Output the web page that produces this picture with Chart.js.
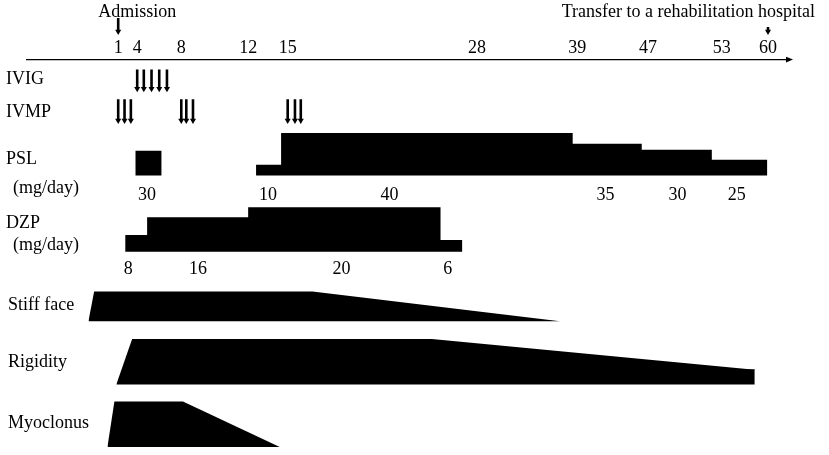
<!DOCTYPE html>
<html>
<head>
<meta charset="utf-8">
<script src="https://cdn.jsdelivr.net/npm/chart.js@4.4.1/dist/chart.umd.min.js"></script>
<style>
  body { margin: 0; background: #fff; }
</style>
</head>
<body>
<canvas id="timeline" width="829" height="455"></canvas>
<script>
// days written on the time axis
const tickDays = [1, 4, 8, 12, 15, 28, 39, 47, 53, 60];
// where each of those days sits along the axis (0-100), the drawing is not to scale
const tickAt = [12.0, 14.5, 20.3, 29.1, 34.3, 59.2, 72.4, 81.7, 91.4, 97.5];

// one arrow per infusion
const ivigDays = [4, 4.6, 5.3, 6.0, 6.7];
const ivmpDays = [1, 2.0, 3.0, 8, 8.3, 8.7, 15, 15.5, 15.9];

// admission / transfer
const eventDays = [1, 60];
const eventNames = ['Admission', 'Transfer to a rehabilitation hospital'];

// prednisolone
const pslStart = [3.7, 12.6, 14.5, 38.5, 46.3, 52.2];
const pslEnd = [6.2, 14.5, 38.5, 46.3, 52.2, 59.9];
const pslDose = [30, 10, 40, 35, 30, 25];
const pslLevel = [25, 11, 43, 32, 26, 16];
const pslLabelDay = [4.9, 13.5, 22.0, 42.2, 49.4, 55.3];

// diazepam
const dzpStart = [2.1, 4.9, 12, 25.5];
const dzpEnd = [4.9, 12, 25.5, 27.0];
const dzpDose = [8, 16, 20, 6];
const dzpLevel = [17, 35, 45, 12];
const dzpLabelDay = [2.6, 9.0, 18.7, 26.0];

// symptoms (outline day / height)
const stiffDays = [-3.7, -2.8, 16.7, 37.1];
const stiffLevel = [0, 30, 30, 0];
const rigidDays = [0.7, 3.2, 24.9, 58.0, 58.0];
const rigidLevel = [0, 46, 46, 15, 0];
const rigidSeamDays = [25.6, 58.0];
const myoDays = [-0.7, 0.4, 8.1, 14.4];
const myoLevel = [0, 46, 46, 0];

// layout, y counted up from the bottom of the figure
const FONT = '18px "Liberation Serif"';
const HEAD = 3.5;
const SHAFT = 2.6;
const rowY = { ivig: [385, 362], ivmp: [355, 330],
               psl: 278, pslText: 258, dzp: 201, dzpText: 183, stiff: 131, rigid: 67, myo: 4 };
const rowNames = [
  ['IVIG', 6, 375], ['IVMP', 6, 342], ['PSL', 6, 294], ['(mg/day)', 13, 265],
  ['DZP', 6, 230], ['(mg/day)', 13, 208], ['Stiff face', 8, 147], ['Rigidity', 8, 90], ['Myoclonus', 8, 28]
];

function dayPos(d) {
  let i = 1;
  while (i < tickDays.length - 1 && d > tickDays[i]) i++;
  let d0 = tickDays[i - 1], d1 = tickDays[i];
  let p0 = tickAt[i - 1], p1 = tickAt[i];
  return p0 + (d - d0) * (p1 - p0) / (d1 - d0);
}

function stepShape(start, end, level, base) {
  let pts = [];
  start.forEach(function(s, i){
    if (!(i > 0 && end[i - 1] === s)) pts.push({x: dayPos(s), y: base});
    pts.push({x: dayPos(s), y: base + level[i]});
    pts.push({x: dayPos(end[i]), y: base + level[i]});
    if (start[i + 1] !== end[i]) pts.push({x: dayPos(end[i]), y: base});
  });
  return pts;
}

function outline(days, level, base) {
  return days.map(function(d, i){ return {x: dayPos(d), y: base + level[i]}; });
}

function shafts(days, row) {
  let pts = [];
  days.forEach(function(d){
    pts.push({x: dayPos(d), y: row[0]}, {x: dayPos(d), y: row[1] + HEAD}, {x: dayPos(d), y: null});
  });
  return pts;
}

function heads(days, row) {
  return days.map(function(d){ return {x: dayPos(d), y: row[1] + HEAD}; });
}

function solid(data, base) {
  return { data: data, fill: {value: base}, backgroundColor: '#000', borderWidth: 0, pointRadius: 0 };
}

function arrowLine(data) {
  return { data: data, borderColor: '#000', borderWidth: SHAFT, borderCapStyle: 'butt', pointRadius: 0, fill: false };
}

function arrowHead(data) {
  return { data: data, showLine: false, pointStyle: 'triangle', rotation: 180, pointRadius: HEAD,
           pointBackgroundColor: '#000', pointBorderWidth: 0 };
}

function downArrow(ctx, px, top, tip) {
  ctx.fillRect(px - SHAFT / 2, top, SHAFT, tip - top - HEAD);
  ctx.beginPath();
  ctx.moveTo(px, tip);
  ctx.lineTo(px - HEAD * 0.87, tip - HEAD * 1.5);
  ctx.lineTo(px + HEAD * 0.87, tip - HEAD * 1.5);
  ctx.closePath();
  ctx.fill();
}

const textPlugin = {
  id: 'texts',
  afterDraw(chart) {
    const ctx = chart.ctx;
    const x = chart.scales.x;
    const y = chart.scales.y;
    ctx.save();
    ctx.fillStyle = '#000';
    ctx.font = FONT;
    ctx.textBaseline = 'middle';

    // arrow tip at the end of the axis
    let ay = x.bottom;
    ctx.beginPath();
    ctx.moveTo(x.right + 6, ay);
    ctx.lineTo(x.right - 1, ay - 2.8);
    ctx.lineTo(x.right - 1, ay + 2.8);
    ctx.closePath();
    ctx.fill();

    // admission and transfer, above the axis
    let p0 = x.getPixelForValue(dayPos(eventDays[0]));
    let p1 = x.getPixelForValue(dayPos(eventDays[1]));
    downArrow(ctx, p0, 18, 35);
    downArrow(ctx, p1, 27, 35);
    ctx.textAlign = 'left';
    ctx.fillText(eventNames[0], p0 - 20, 12);
    ctx.textAlign = 'right';
    ctx.fillText(eventNames[1], p1 + 47, 12);

    ctx.textAlign = 'left';
    rowNames.forEach(function(r){ ctx.fillText(r[0], r[1], y.getPixelForValue(r[2])); });

    ctx.textAlign = 'center';
    pslDose.forEach(function(v, i){
      ctx.fillText(v, x.getPixelForValue(dayPos(pslLabelDay[i])), y.getPixelForValue(rowY.pslText));
    });
    dzpDose.forEach(function(v, i){
      ctx.fillText(v, x.getPixelForValue(dayPos(dzpLabelDay[i])), y.getPixelForValue(rowY.dzpText));
    });
    ctx.restore();
  }
};

const ctx = document.getElementById('timeline');

new Chart(ctx, {
  type: 'line',
  data: {
    datasets: [
      solid(stepShape(pslStart, pslEnd, pslLevel, rowY.psl), rowY.psl),
      solid(stepShape(dzpStart, dzpEnd, dzpLevel, rowY.dzp), rowY.dzp),
      solid(outline(stiffDays, stiffLevel, rowY.stiff), rowY.stiff),
      solid(outline(rigidDays, rigidLevel, rowY.rigid), rowY.rigid),
      solid(outline(myoDays, myoLevel, rowY.myo), rowY.myo),
      { data: rigidSeamDays.map(function(d){ return {x: dayPos(d), y: rowY.rigid + rigidLevel[3]}; }),
        borderColor: '#3a3a3a', borderWidth: 1, pointRadius: 0, fill: false },
      arrowLine(shafts(ivigDays, rowY.ivig)),
      arrowHead(heads(ivigDays, rowY.ivig)),
      arrowLine(shafts(ivmpDays, rowY.ivmp)),
      arrowHead(heads(ivmpDays, rowY.ivmp))
    ]
  },
  options: {
    responsive: false,
    animation: false,
    layout: { padding: { top: 36, left: 27, right: 42, bottom: 0 } },
    plugins: { legend: { display: false }, tooltip: { enabled: false } },
    scales: {
      x: {
        type: 'linear',
        position: 'top',
        min: 0,
        max: 100,
        grid: { display: false, drawTicks: false },
        border: { display: true, color: '#000', width: 1.2 },
        afterBuildTicks: function(scale){
          scale.ticks = tickDays.map(function(d){ return {value: dayPos(d)}; });
        },
        ticks: {
          autoSkip: false,
          maxRotation: 0,
          padding: 1,
          color: '#000',
          font: { family: 'Liberation Serif', size: 18 },
          callback: function(v, i){ return tickDays[i]; }
        }
      },
      y: { type: 'linear', display: false, min: 0, max: 395 }
    }
  },
  plugins: [textPlugin]
});
</script>
</body>
</html>
